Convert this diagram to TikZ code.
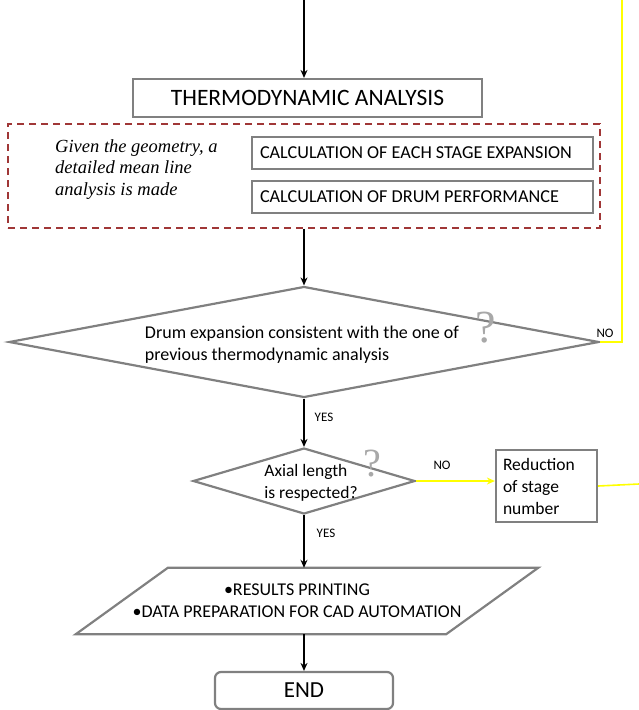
\documentclass[tikz,border=0pt]{standalone}
\usepackage{fontspec}
\setmainfont{Carlito}
\newfontfamily\notefont{Liberation Serif}
\usetikzlibrary{shapes.geometric,arrows.meta,calc}
\definecolor{boxgray}{RGB}{128,128,128}
\definecolor{groupred}{RGB}{160,55,55}
\definecolor{markgray}{RGB}{168,168,168}
\definecolor{loopyellow}{RGB}{255,255,0}
\begin{document}
\begin{tikzpicture}[x=1pt,y=-1pt,
  box/.style={draw=boxgray,line width=2.2pt,rectangle,inner sep=0pt},
  outline/.style={draw=boxgray,line width=2.2pt,line join=miter},
  flow/.style={draw=black,line width=1.4pt,-{Stealth[length=8pt,width=7pt]}},
  loop/.style={draw=loopyellow,line width=1.6pt},
  tag/.style={font=\fontsize{13}{15}\selectfont,inner sep=0pt},
  mark/.style={font=\notefont\fontsize{#1}{#1}\selectfont,text=markgray,inner sep=0pt},
  calcbox/.style={box,minimum width=341pt,minimum height=32pt,text width=325pt,align=flush left,font=\fontsize{18.2}{20}\selectfont}]
\useasboundingbox (0,0) rectangle (639,710);

% entry and analysis block
\coordinate (start) at (304,0);
\node[box,minimum width=349pt,minimum height=38pt,font=\fontsize{23.5}{26}\selectfont] (thermo) at (307.5,98) {THERMODYNAMIC ANALYSIS};
\node[draw=groupred,line width=1.8pt,dash pattern=on 7pt off 5pt,minimum width=592pt,minimum height=104pt,inner sep=0pt] (group) at (304,176) {};
\node[font=\notefont\itshape\fontsize{18.5}{21.5}\selectfont,align=flush left,anchor=north west,inner sep=0pt] (note) at (55,139) {Given the geometry, a\\detailed mean line\\analysis is made};
\node[calcbox] (stage) at (422.5,153) {CALCULATION OF EACH STAGE EXPANSION};
\node[calcbox] (drum) at (422.5,197) {CALCULATION OF DRUM PERFORMANCE};

% first check
\node[box,diamond,minimum width=590pt,minimum height=111pt] (check1) at (304,342) {};
\node[font=\fontsize{18}{22}\selectfont,align=flush left,inner sep=0pt] (check1text) at (302,345) {Drum expansion consistent with the one of\\previous thermodynamic analysis};
\node[mark=46] (q1) at (486,328) {?};
\node[tag] (no1) at (605,333) {NO};
\coordinate (looptop) at (622,0);

% second check
\node[tag] (yes1) at (324,417) {YES};
\node[box,diamond,minimum width=222pt,minimum height=66pt] (check2) at (304,481) {};
\node[font=\fontsize{17.5}{22}\selectfont,align=flush left,inner sep=0pt] (check2text) at (311,483) {Axial length\\is respected?};
\node[mark=40] (q2) at (372,464) {?};
\node[tag] (no2) at (442,465) {NO};
\node[box,minimum width=101pt,minimum height=72pt,text width=87pt,align=flush left,font=\fontsize{17.5}{22}\selectfont] (reduce) at (546.5,486) {Reduction\\of stage\\number};
\coordinate (loopright) at (639,484);

% output block: a parallelogram leaning right around its body box
\node[tag] (yes2) at (326,533) {YES};
\node[minimum width=370pt,minimum height=66pt,inner sep=0pt] (output) at (307,601) {};
\draw[outline] ($(output.south west)+(-46,0)$) -- ($(output.north west)+(46,0)$)
  -- ($(output.north east)+(46,0)$) -- ($(output.south east)+(-46,0)$) -- cycle;
\node[font=\fontsize{18}{22}\selectfont,align=center,inner sep=0pt] (outtext) at (297,601) {\textbullet RESULTS PRINTING\\\textbullet DATA PREPARATION FOR CAD AUTOMATION};
\node[box,rounded corners=6pt,minimum width=178pt,minimum height=37pt,font=\fontsize{23}{26}\selectfont] (finish) at (304,690.5) {END};

% connectors
\draw[flow] (start) -- (start |- thermo.north);
\draw[flow] (group.south) -- (check1.north);
\draw[flow] (check1.south) -- (check2.north);
\draw[flow] (check2.south) -- (check2.south |- output.north);
\draw[flow] (finish.north |- output.south) -- (finish.north);
\draw[loop] (check1.east) -| (looptop);
\draw[loop,-{Stealth[length=8pt,width=7pt]}] (check2.east) -- (reduce.west |- check2.east);
\draw[loop] (reduce.east) -- (loopright);
\end{tikzpicture}
\end{document}
